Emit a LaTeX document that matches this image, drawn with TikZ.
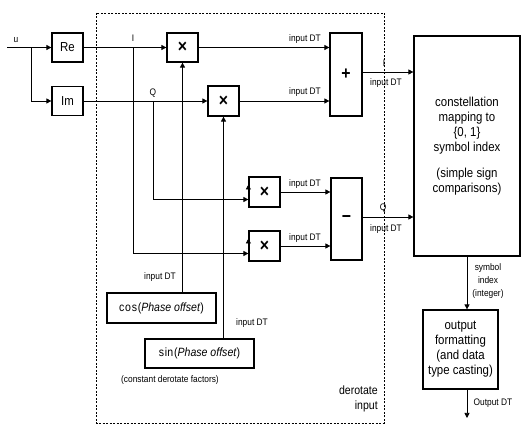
\documentclass[tikz,border=0pt]{standalone}
\usepackage{fontspec}
\setmainfont{Liberation Sans}[FakeStretch=0.88]
\usetikzlibrary{arrows.meta,calc}
\tikzset{
  blk/.style={draw, line width=1.2pt, inner sep=0pt, align=center},
  wire/.style={line width=0.75pt},
  arr/.style={wire, -{Triangle[length=5pt,width=5pt]}},
  lbl/.style={inner sep=0pt, font=\fontsize{9.5}{11}\selectfont},
  big/.style={font=\fontsize{13}{15}\selectfont},
  op/.style={font=\fontsize{18}{18}\selectfont\bfseries},
}
\begin{document}
\begin{tikzpicture}[x=1pt,y=-1pt]
\useasboundingbox (0,0) rectangle (531,435);
% frame of the derotate section
\draw[line width=0.6pt, dash pattern=on 2pt off 1.5pt] (96,13) rectangle (384,423);

% blocks
\node[blk,big,minimum width=31pt,minimum height=29pt] (re) at (67.5,47.5) {Re};
\node[blk,big,minimum width=31pt,minimum height=29pt] (im) at (67.5,101) {Im};
\node[blk,op,minimum width=31pt,minimum height=29pt] (m1) at (182.5,47.5) {×};
\node[blk,op,minimum width=31pt,minimum height=30pt] (m2) at (223.5,101) {×};
\node[blk,op,minimum width=31pt,minimum height=30pt] (m3) at (264.5,192) {×};
\node[blk,op,minimum width=31pt,minimum height=30pt] (m4) at (264.5,246) {×};
\node[blk,op,minimum width=32pt,minimum height=83pt] (add) at (346,74.5) {+};
\node[blk,op,minimum width=31pt,minimum height=82pt] (sub) at (346.5,219) {−};
\node[blk,big,minimum width=106pt,minimum height=220pt] (const) at (467,146)
  {constellation\\mapping to\\\{0, 1\}\\symbol index\\[11pt](simple sign\\comparisons)};
\node[blk,big,minimum width=75pt,minimum height=79pt] (outb) at (460.5,349.5)
  {output\\formatting\\(and data\\type casting)};
\node[blk,minimum width=109pt,minimum height=30pt,font=\fontsize{12}{14}\selectfont] (cosb) at (161.5,308) {$\cos$(\textit{Phase offset})};
\node[blk,minimum width=109pt,minimum height=29pt,font=\fontsize{12}{14}\selectfont] (sinb) at (199.5,353.5) {$\sin$(\textit{Phase offset})};

% input split
\coordinate (uin) at (7,47.5);
\coordinate (ub) at (31,47.5);
\draw[arr] (uin) -- (re);
\draw[arr] (ub) |- (im);

% Re / Im to first multipliers
\draw[arr] (re) -- (m1);
\draw[arr] (im) -- (m2);

% I and Q branches
\coordinate (ib) at (133,47.5);
\coordinate (qb) at (153,101);
\draw[arr] (ib) |- ($(m4.west)+(0,7.5)$);
\draw[arr] (qb) |- ($(m3.west)+(0,7.5)$);

% cos / sin factors
\draw[arr] (cosb.north -| m1) -- (m1.south);
\draw[arr] ($(m3.west)+(0,-7.5)$ -| m1) -- ($(m3.west)+(0,-7.5)$);
\draw[arr] (sinb.north -| m2) -- (m2.south);
\draw[arr] ($(m4.west)+(0,-7.5)$ -| m2) -- ($(m4.west)+(0,-7.5)$);

% products to adder / subtractor
\draw[arr] (m1) -- (m1 -| add.west);
\draw[arr] (m2) -- (m2 -| add.west);
\draw[arr] (m3) -- (m3 -| sub.west);
\draw[arr] (m4) -- (m4 -| sub.west);

% to constellation mapping
\draw[arr] ([yshift=2.5pt]add.east) -- ([yshift=2.5pt]add.east -| const.west);
\draw[arr] ([yshift=2pt]sub.east) -- ([yshift=2pt]sub.east -| const.west);

% output chain
\draw[arr] (const.south) -- (const.south |- outb.north);
\coordinate (oend) at (467,418);
\draw[arr] (outb.south -| oend) -- (oend);

% labels
\node[lbl] (lu) at (16,40) {u};
\node[lbl] (lI) at (133,38) {I};
\node[lbl] (lQ) at (153,93) {Q};
\node[lbl] (d1) at (305,39) {input DT};
\node[lbl] (d2) at (305,92) {input DT};
\node[lbl] (d3) at (305,184) {input DT};
\node[lbl] (d4) at (305,238) {input DT};
\node[lbl] (lI2) at (384,63) {I};
\node[lbl] (d5) at (386,83) {input DT};
\node[lbl] (lQ2) at (383,208) {Q};
\node[lbl] (d6) at (386,229) {input DT};
\node[lbl] (d7) at (160,277) {input DT};
\node[lbl] (d8) at (252,323) {input DT};
\node[lbl] (cf) at (170,380) {(constant derotate factors)};
\node[lbl,anchor=north east,align=right,font=\fontsize{12}{15}\selectfont] (dr) at (378,386) {derotate\\input};
\node[lbl,align=center,font=\fontsize{9.5}{13}\selectfont] (si) at (488,281) {symbol\\index\\(integer)};
\node[lbl] (od) at (493,403) {Output DT};
\end{tikzpicture}
\end{document}
